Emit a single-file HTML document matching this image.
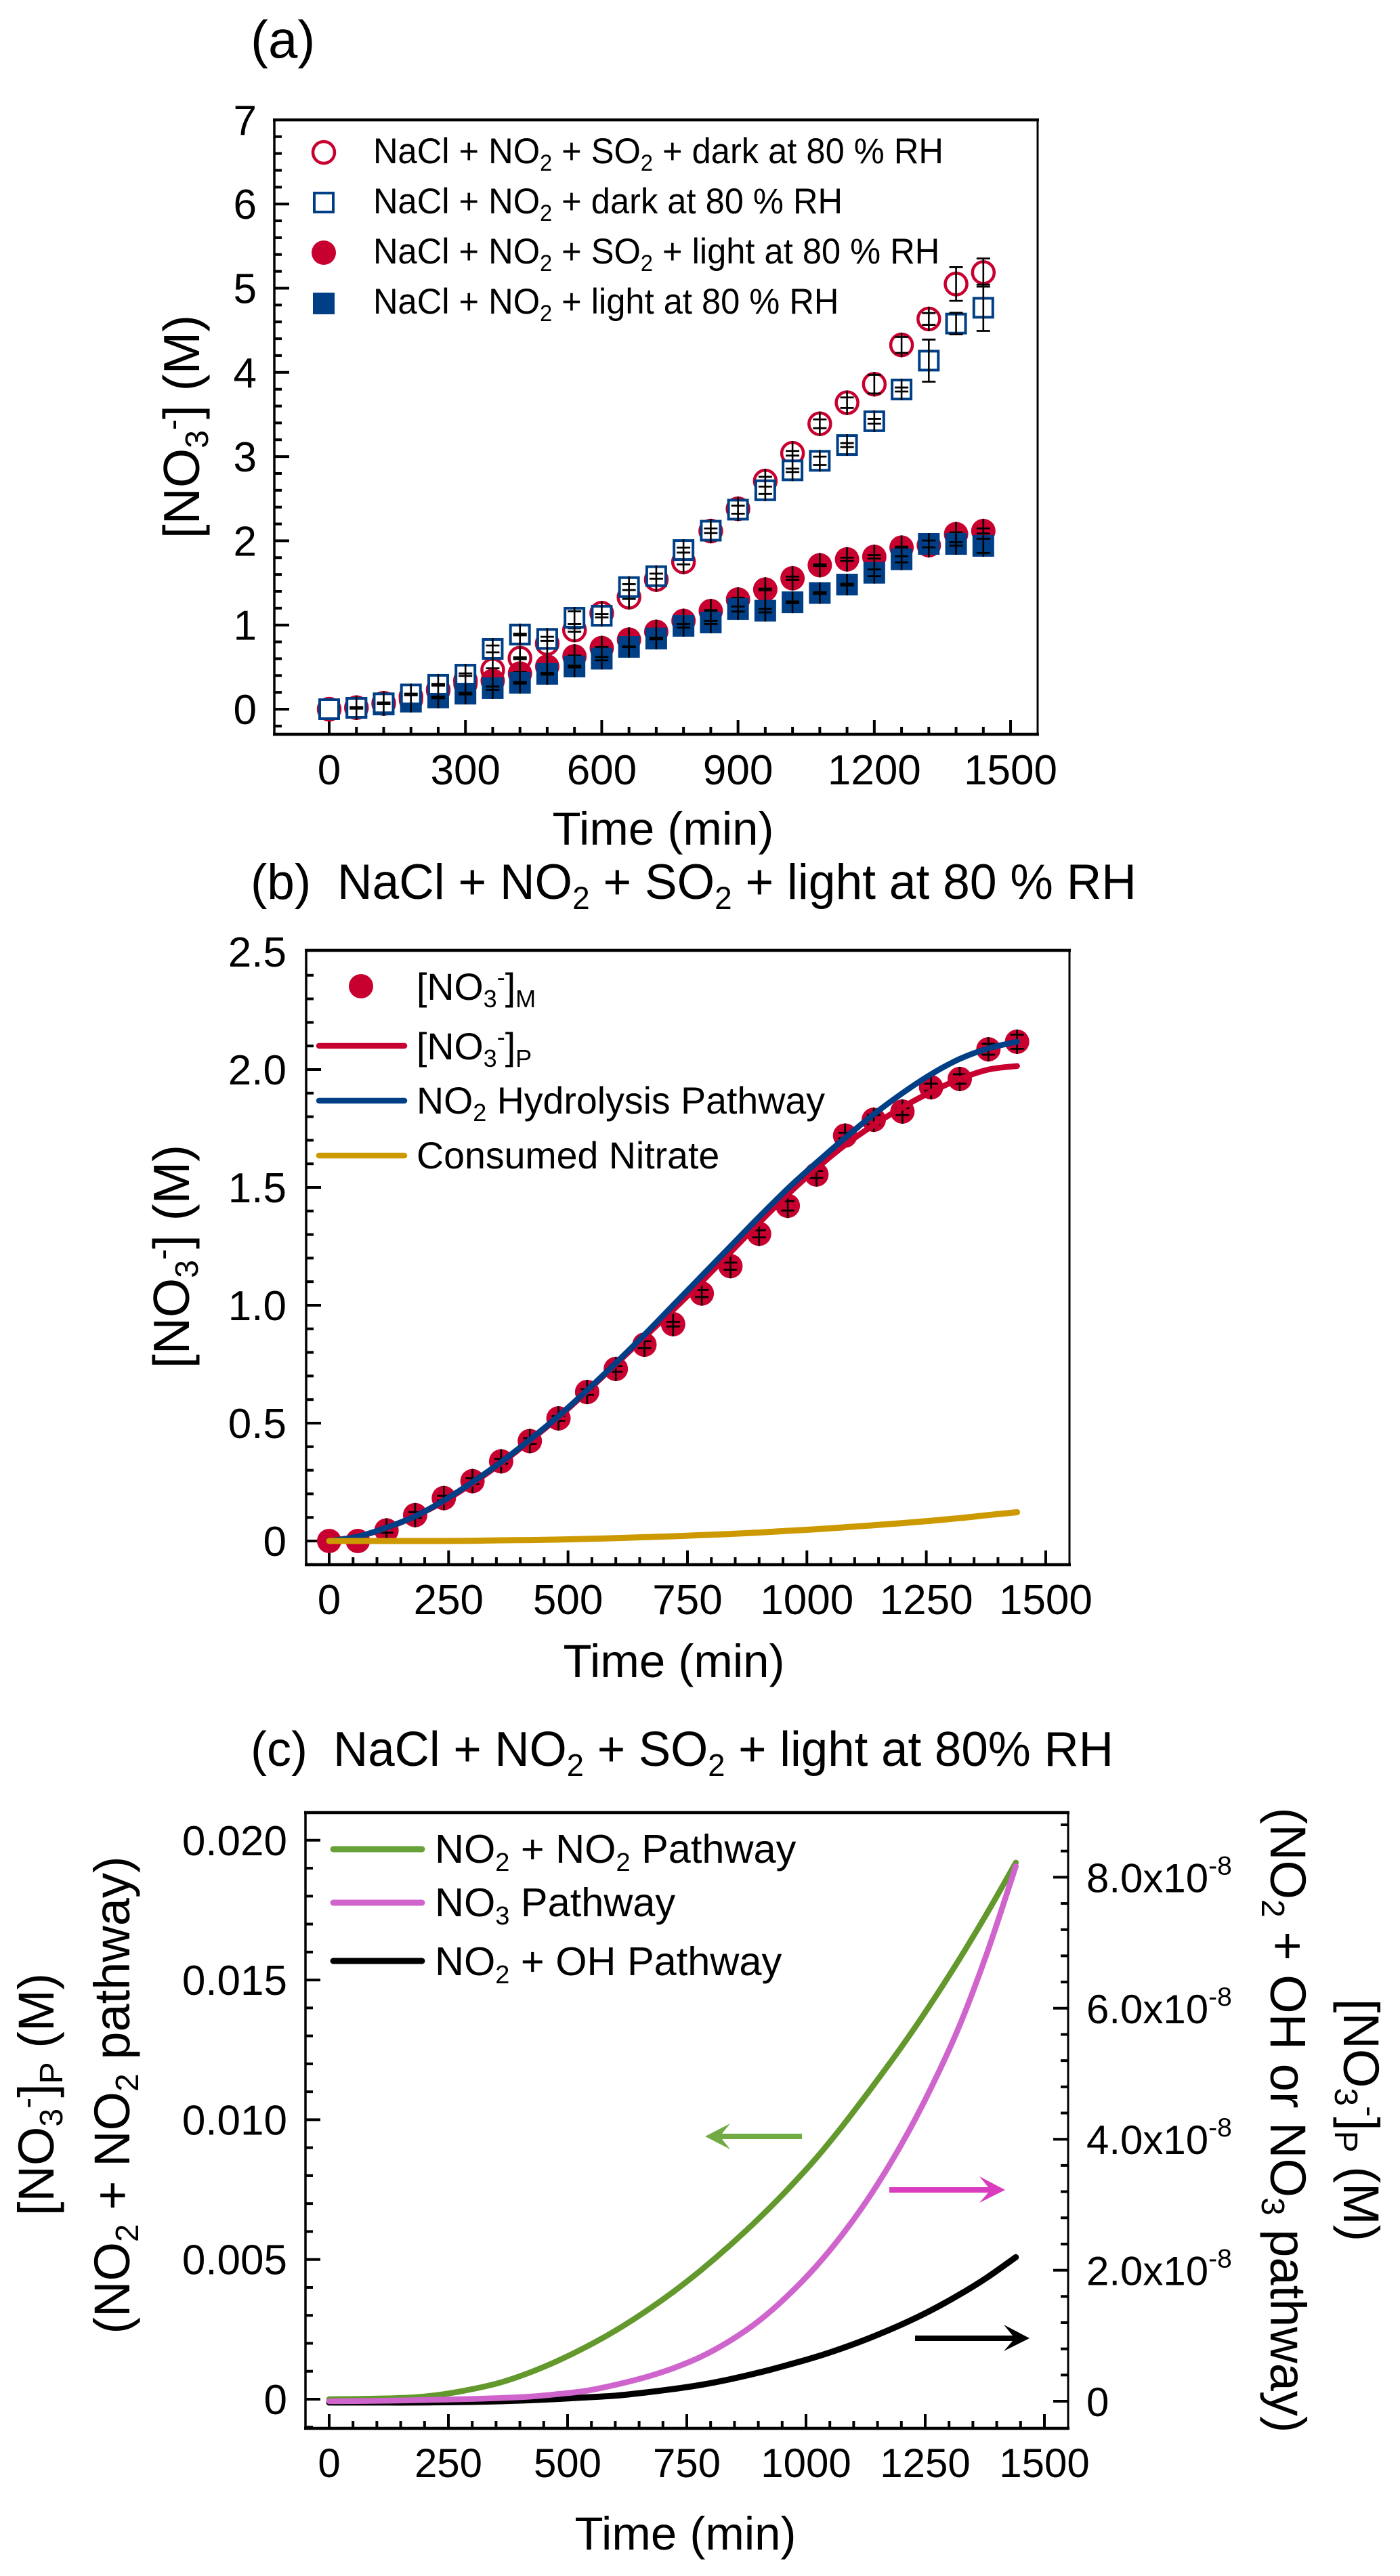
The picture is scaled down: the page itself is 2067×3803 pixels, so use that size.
<!DOCTYPE html>
<html lang="en">
<head>
<meta charset="utf-8">
<title>Nitrate formation charts</title>
<style>
html,body{margin:0;padding:0;background:#fff;}
svg{display:block;}
text{font-family:"Liberation Sans",Arial,sans-serif;fill:#000;}
</style>
</head>
<body>
<svg id="figure" xmlns="http://www.w3.org/2000/svg" width="2067" height="3803" viewBox="0 0 2067 3803">
<rect x="0" y="0" width="2067" height="3803" fill="#fff"/>

<!-- Panel A static text -->
<g id="panelA">
<text x="370" y="85" font-size="78">(a)</text>
<text x="979" y="1247" font-size="69" text-anchor="middle">Time (min)</text>
<text transform="translate(294,630) rotate(-90)" font-size="75" text-anchor="middle">[NO<tspan dy="13" font-size="48">3</tspan><tspan dy="-36" font-size="48">-</tspan><tspan dy="23">] (M)</tspan></text>
<g id="legendA">
<circle cx="478" cy="225" r="16" fill="#fff" stroke="#c8002f" stroke-width="4.5"/>
<rect x="464" y="285" width="28" height="28" fill="#fff" stroke="#003f85" stroke-width="4"/>
<circle cx="478" cy="373" r="18" fill="#c8002f"/>
<rect x="462" y="432" width="32" height="32" fill="#003f85"/>
<text transform="translate(551,241) scale(0.955,1)" font-size="53">NaCl + NO<tspan dy="11" font-size="34">2</tspan><tspan dy="-11"> + SO</tspan><tspan dy="11" font-size="34">2</tspan><tspan dy="-11"> + dark at 80 % RH</tspan></text>
<text transform="translate(551,315) scale(0.955,1)" font-size="53">NaCl + NO<tspan dy="11" font-size="34">2</tspan><tspan dy="-11"> + dark at 80 % RH</tspan></text>
<text transform="translate(551,389) scale(0.955,1)" font-size="53">NaCl + NO<tspan dy="11" font-size="34">2</tspan><tspan dy="-11"> + SO</tspan><tspan dy="11" font-size="34">2</tspan><tspan dy="-11"> + light at 80 % RH</tspan></text>
<text transform="translate(551,463) scale(0.955,1)" font-size="53">NaCl + NO<tspan dy="11" font-size="34">2</tspan><tspan dy="-11"> + light at 80 % RH</tspan></text>
</g>
</g>

<!-- Panel B static text -->
<g id="panelB">
<text x="370" y="1327" font-size="73">(b)</text>
<text transform="translate(498,1327) scale(0.978,1)" font-size="73">NaCl + NO<tspan dy="15" font-size="47">2</tspan><tspan dy="-15"> + SO</tspan><tspan dy="15" font-size="47">2</tspan><tspan dy="-15"> + light at 80 % RH</tspan></text>
<text x="995" y="2476" font-size="69" text-anchor="middle">Time (min)</text>
<text transform="translate(279,1855) rotate(-90)" font-size="75" text-anchor="middle">[NO<tspan dy="13" font-size="48">3</tspan><tspan dy="-36" font-size="48">-</tspan><tspan dy="23">] (M)</tspan></text>
<g id="legendB">
<circle cx="533" cy="1456" r="18" fill="#c8002f"/>
<line x1="471" y1="1544" x2="597" y2="1544" stroke="#c8002f" stroke-width="8.5" stroke-linecap="round"/>
<line x1="471" y1="1625" x2="597" y2="1625" stroke="#003f85" stroke-width="8.5" stroke-linecap="round"/>
<line x1="471" y1="1706" x2="597" y2="1706" stroke="#cc9900" stroke-width="8.5" stroke-linecap="round"/>
<text x="615" y="1476" font-size="55.5">[NO<tspan dy="11" font-size="36">3</tspan><tspan dy="-32" font-size="36">-</tspan><tspan dy="21">]</tspan><tspan dy="11" font-size="36">M</tspan></text>
<text x="615" y="1564" font-size="55.5">[NO<tspan dy="11" font-size="36">3</tspan><tspan dy="-32" font-size="36">-</tspan><tspan dy="21">]</tspan><tspan dy="11" font-size="36">P</tspan></text>
<text x="615" y="1644" font-size="55.5">NO<tspan dy="11" font-size="36">2</tspan><tspan dy="-11"> Hydrolysis Pathway</tspan></text>
<text x="615" y="1725" font-size="55.5">Consumed Nitrate</text>
</g>
</g>

<!-- Panel C static text -->
<g id="panelC">
<text x="370" y="2607" font-size="72">(c)</text>
<text transform="translate(492,2607) scale(0.985,1)" font-size="72">NaCl + NO<tspan dy="15" font-size="46">2</tspan><tspan dy="-15"> + SO</tspan><tspan dy="15" font-size="46">2</tspan><tspan dy="-15"> + light at 80% RH</tspan></text>
<text x="1012" y="3764" font-size="69" text-anchor="middle">Time (min)</text>
<text transform="translate(79,3092) rotate(-90)" font-size="74" text-anchor="middle">[NO<tspan dy="13" font-size="48">3</tspan><tspan dy="-36" font-size="48">-</tspan><tspan dy="23">]</tspan><tspan dy="13" font-size="48">P</tspan><tspan dy="-13"> (M)</tspan></text>
<text transform="translate(191,3093) rotate(-90)" font-size="74" text-anchor="middle">(NO<tspan dy="13" font-size="48">2</tspan><tspan dy="-13"> + NO</tspan><tspan dy="13" font-size="48">2</tspan><tspan dy="-13"> pathway)</tspan></text>
<text transform="translate(1876,3130) rotate(90)" font-size="74" text-anchor="middle">(NO<tspan dy="13" font-size="48">2</tspan><tspan dy="-13"> + OH or NO</tspan><tspan dy="13" font-size="48">3</tspan><tspan dy="-13"> pathway)</tspan></text>
<text transform="translate(1984,3130) rotate(90)" font-size="74" text-anchor="middle">[NO<tspan dy="13" font-size="48">3</tspan><tspan dy="-36" font-size="48">-</tspan><tspan dy="23">]</tspan><tspan dy="13" font-size="48">P</tspan><tspan dy="-13"> (M)</tspan></text>
<g id="legendC">
<line x1="492" y1="2730" x2="623" y2="2730" stroke="#68a03a" stroke-width="9" stroke-linecap="round"/>
<line x1="492" y1="2809" x2="623" y2="2809" stroke="#ce64cc" stroke-width="9" stroke-linecap="round"/>
<line x1="492" y1="2895" x2="623" y2="2895" stroke="#000" stroke-width="9" stroke-linecap="round"/>
<text x="642" y="2750" font-size="59.5">NO<tspan dy="12" font-size="38">2</tspan><tspan dy="-12"> + NO</tspan><tspan dy="12" font-size="38">2</tspan><tspan dy="-12"> Pathway</tspan></text>
<text x="642" y="2829" font-size="59.5">NO<tspan dy="12" font-size="38">3</tspan><tspan dy="-12"> Pathway</tspan></text>
<text x="642" y="2916" font-size="59.5">NO<tspan dy="12" font-size="38">2</tspan><tspan dy="-12"> + OH Pathway</tspan></text>
</g>
<g id="arrowsC">
<polygon points="1041,3154 1078,3135 1066,3150 1184,3150 1184,3158 1066,3158 1078,3173" fill="#72ab44"/>
<polygon points="1484,3233 1446,3213 1459,3229 1313,3229 1313,3237 1459,3237 1446,3252" fill="#d93dbd"/>
<polygon points="1520,3452 1482,3432 1495,3448 1351,3448 1351,3456 1495,3456 1482,3471" fill="#000"/>
</g>
</g>
</svg>

<script>
// Shared sampling times (min)
const timeMinutes = [0,60,120,180,240,300,360,420,480,540,600,660,720,780,840,900,960,1020,1080,1140,1200,1260,1320,1380,1440];

// Panel A: measured nitrate (M) and uncertainty
const darkSo2Values = [0,0.018,0.07,0.15,0.23,0.34,0.466,0.606,0.78,0.94,1.14,1.33,1.54,1.75,2.116,2.38,2.71,3.04,3.39,3.64,3.86,4.326,4.635,5.05,5.186];
const darkSo2Errors = [0,0.01,0.01,0.01,0.01,0.01,0.02,0.01,0.02,0.02,0.02,0.02,0.03,0.03,0.03,0.04,0.05,0.027,0.052,0.063,0.11,0.095,0.07,0.2,0.167];
const darkValues = [0,0.016,0.07,0.175,0.29,0.41,0.716,0.887,0.835,1.086,1.11,1.45,1.58,1.89,2.12,2.37,2.6,2.837,2.95,3.137,3.42,3.797,4.14,4.58,4.768];
const darkErrors = [0,0.01,0.01,0.01,0.01,0.015,0.04,0.01,0.025,0.076,0.02,0.035,0.03,0.03,0.027,0.048,0.044,0.02,0.05,0.023,0.028,0.024,0.25,0.128,0.275];
const lightSo2Values = [0,0.018,0.065,0.11,0.217,0.3,0.338,0.424,0.507,0.627,0.727,0.827,0.92,1.05,1.166,1.303,1.422,1.555,1.71,1.78,1.81,1.92,1.947,2.08,2.117];
const lightSo2Errors = [0,0.01,0.01,0.01,0.01,0.01,0.015,0.015,0.02,0.01,0.01,0.01,0.01,0.015,0.01,0.02,0.01,0.02,0.01,0.02,0.02,0.01,0.02,0.02,0.03];
const lightValues = [0,0.016,0.056,0.09,0.14,0.185,0.25,0.314,0.42,0.507,0.6,0.74,0.84,0.99,1.03,1.19,1.17,1.27,1.38,1.48,1.62,1.78,1.963,1.963,1.94];
const lightErrors = [0,0.01,0.01,0.01,0.01,0.01,0.02,0.01,0.01,0.01,0.02,0.005,0.01,0.02,0.02,0.03,0.02,0.01,0.01,0.01,0.04,0.036,0.04,0.02,0.085];

// Panel B: measured and modelled nitrate (M)
const measuredValues = [0,0,0.045,0.11,0.182,0.254,0.338,0.424,0.52,0.632,0.73,0.833,0.92,1.05,1.166,1.303,1.422,1.555,1.72,1.787,1.822,1.925,1.96,2.086,2.118];
const measuredErrors = [0,0,0.01,0.012,0.01,0.012,0.01,0.012,0.01,0.012,0.012,0.015,0.01,0.015,0.015,0.015,0.02,0.015,0.012,0.02,0.015,0.015,0.02,0.023,0.03];
const predictedValues = [0,0.019,0.055,0.105,0.168,0.245,0.33,0.425,0.525,0.635,0.75,0.865,0.98,1.1,1.225,1.35,1.47,1.58,1.68,1.765,1.84,1.905,1.96,2,2.015];
const hydrolysisValues = [0,0.019,0.057,0.105,0.172,0.25,0.335,0.43,0.53,0.64,0.755,0.875,1,1.125,1.25,1.375,1.495,1.605,1.71,1.81,1.9,1.98,2.045,2.09,2.118];
const consumedValues = [0,0,0,0,0,0.001,0.003,0.004,0.006,0.009,0.012,0.016,0.02,0.025,0.03,0.036,0.043,0.05,0.058,0.067,0.076,0.086,0.097,0.11,0.122];

// Panel C: pathway contributions
const no2No2Values = [0,0.00001,0.00003,0.00007,0.00018,0.00036,0.0006,0.00095,0.00138,0.00188,0.00245,0.0031,0.00382,0.00462,0.0055,0.00645,0.00748,0.0086,0.00985,0.0112,0.0126,0.0141,0.0157,0.0174,0.0192];
const no3PathwayValues = [0,0.003,0.008,0.015,0.025,0.035,0.05,0.07,0.11,0.16,0.25,0.36,0.5,0.68,0.92,1.22,1.6,2.05,2.58,3.2,3.92,4.75,5.7,6.85,8.17];
const no2OhValues = [-0.02,-0.02,-0.02,-0.02,-0.015,-0.01,0,0.015,0.035,0.06,0.085,0.13,0.185,0.25,0.335,0.435,0.55,0.675,0.82,0.985,1.17,1.38,1.62,1.89,2.2];

// Tick labels
const xTickValuesA = [0,300,600,900,1200,1500];
const xTickLabelsA = ['0','300','600','900','1200','1500'];
const yTickValuesA = [0,1,2,3,4,5,6,7];
const yTickLabelsA = ['0','1','2','3','4','5','6','7'];
const xTickValuesB = [0,250,500,750,1000,1250,1500];
const xTickLabelsB = ['0','250','500','750','1000','1250','1500'];
const yTickValuesB = [0,0.5,1,1.5,2,2.5];
const yTickLabelsB = ['0','0.5','1.0','1.5','2.0','2.5'];
const yTickValuesC = [0,0.005,0.01,0.015,0.02];
const yTickLabelsC = ['0','0.005','0.010','0.015','0.020'];
const rightTickValuesC = [0,2,4,6,8];
const rightTickLabelsC = ['0','2.0x10','4.0x10','6.0x10','8.0x10'];
const rightTickExponentsC = ['','-8','-8','-8','-8'];

// Axis functions
function xA(t){return 486 + t*0.6707;}
function yA(v){return 1047 - v*124.3;}
function xB(t){return 486 + t*0.7053;}
function yB(v){return 2275 - v*348;}
function xC(t){return 486 + t*0.704;}
function yC(v){return 3542 - v*41260;}
function yR(v){return 3545 - v*96.7;}

const NS = 'http://www.w3.org/2000/svg';
function svgEl(tag, parent){
  const el = document.createElementNS(NS, tag);
  parent.appendChild(el);
  return el;
}
function setLine(el, x1, y1, x2, y2, width, color){
  el.setAttribute('x1', x1);
  el.setAttribute('y1', y1);
  el.setAttribute('x2', x2);
  el.setAttribute('y2', y2);
  el.setAttribute('stroke', color);
  el.setAttribute('stroke-width', width);
}

function drawFrame(parent, l, r, t, b){
  const top = svgEl('line', parent);
  setLine(top, l-2, t, r+2, t, 4.5, '#000');
  
  
  const bottom = svgEl('line', parent);
  setLine(bottom, l-2, b, r+2, b, 4.5, '#000');
  
  
  const left = svgEl('line', parent);
  setLine(left, l, t, l, b, 3.5, '#000');
  
  
  const right = svgEl('line', parent);
  setLine(right, r, t, r, b, 3, '#000');
  
  
}

function drawXAxis(parent, xf, bottom, majors, labels, minorFrom, minorTo, minorStep, labelY, fontSize){
  for(let v=minorFrom; v<=minorTo+0.001; v+=minorStep){
    const isMajor = majors.indexOf(v) >= 0;
    const tick = svgEl('line', parent);
    setLine(tick, xf(v), bottom, xf(v), bottom-(isMajor?21:11), 4, '#000');
    
    
  }
  majors.forEach(function(v,i){
    const label = svgEl('text', parent);
    label.setAttribute('x', xf(v));
    label.setAttribute('y', labelY);
    label.setAttribute('font-size', fontSize);
    label.setAttribute('text-anchor', 'middle');
    label.textContent = labels[i];
    
    
  });
}

function drawYAxis(parent, yf, left, majors, labels, minorCount, minorStep, labelX, labelDy, fontSize){
  for(let i=0; i<minorCount; i++){
    const v = Math.round((majors[0] + (i-1)*minorStep)*1e6)/1e6;
    const isMajor = majors.some(function(m){return Math.abs(m-v)<1e-6;});
    const tick = svgEl('line', parent);
    setLine(tick, left, yf(v), left+(isMajor?22:11), yf(v), 4, '#000');
    
    
  }
  majors.forEach(function(v,i){
    const label = svgEl('text', parent);
    label.setAttribute('x', labelX);
    label.setAttribute('y', yf(v)+labelDy);
    label.setAttribute('font-size', fontSize);
    label.setAttribute('text-anchor', 'end');
    label.textContent = labels[i];
    
    
  });
}

function drawErrorBar(parent, x, yVal, yf, err, half, capWidth){
  if(err <= 0){ return; }
  const cy = yf(yVal);
  const errPx = Math.abs(yf(yVal+err)-cy);
  const reach = Math.max(errPx, half);
  const stem = svgEl('line', parent);
  setLine(stem, x, cy-reach, x, cy+reach, 2.6, '#000');
  
  
  const capTop = svgEl('line', parent);
  setLine(capTop, x-capWidth/2, cy-errPx, x+capWidth/2, cy-errPx, 2.8, '#000');
  
  
  const capBottom = svgEl('line', parent);
  setLine(capBottom, x-capWidth/2, cy+errPx, x+capWidth/2, cy+errPx, 2.8, '#000');
  
  
}

function drawCircles(parent, xf, yf, values, errors, filled, color, seriesName){
  const group = svgEl('g', parent);
  
  
  values.forEach(function(v,i){
    const dot = svgEl('circle', group);
    dot.setAttribute('cx', xf(timeMinutes[i]));
    dot.setAttribute('cy', yf(v));
    if(filled){
      dot.setAttribute('r', 18);
      dot.setAttribute('fill', color);
    } else {
      dot.setAttribute('r', 16);
      dot.setAttribute('fill', '#fff');
      dot.setAttribute('stroke', color);
      dot.setAttribute('stroke-width', 4.5);
    }
    
    
    drawErrorBar(group, xf(timeMinutes[i]), v, yf, errors[i], 18, 20);
  });
}

function drawSquares(parent, xf, yf, values, errors, filled, color, seriesName){
  const group = svgEl('g', parent);
  
  
  values.forEach(function(v,i){
    const sq = svgEl('rect', group);
    const half = filled ? 16 : 14;
    sq.setAttribute('x', xf(timeMinutes[i])-half);
    sq.setAttribute('y', yf(v)-half);
    sq.setAttribute('width', half*2);
    sq.setAttribute('height', half*2);
    if(filled){
      sq.setAttribute('fill', color);
    } else {
      sq.setAttribute('fill', '#fff');
      sq.setAttribute('stroke', color);
      sq.setAttribute('stroke-width', 4);
    }
    
    
    drawErrorBar(group, xf(timeMinutes[i]), v, yf, errors[i], 16, 20);
  });
}

// Curves pass through every data value with Catmull-Rom smoothing between them.
function drawCurve(parent, xf, yf, values, color, width, seriesName){
  const xs = values.map(function(v,i){return xf(timeMinutes[i]);});
  const ys = values.map(function(v){return yf(v);});
  let d = 'M' + xs[0].toFixed(1) + ' ' + ys[0].toFixed(1);
  for(let i=0; i<xs.length-1; i++){
    const p0 = Math.max(i-1, 0);
    const p3 = Math.min(i+2, xs.length-1);
    const c1x = xs[i] + (xs[i+1]-xs[p0])/6;
    const c1y = ys[i] + (ys[i+1]-ys[p0])/6;
    const c2x = xs[i+1] - (xs[p3]-xs[i])/6;
    const c2y = ys[i+1] - (ys[p3]-ys[i])/6;
    d += ' C' + c1x.toFixed(1) + ' ' + c1y.toFixed(1) + ' ' + c2x.toFixed(1) + ' ' + c2y.toFixed(1) + ' ' + xs[i+1].toFixed(1) + ' ' + ys[i+1].toFixed(1);
  }
  const line = svgEl('path', parent);
  line.setAttribute('d', d);
  line.setAttribute('fill', 'none');
  line.setAttribute('stroke', color);
  line.setAttribute('stroke-width', width);
  line.setAttribute('stroke-linecap', 'round');
  line.setAttribute('stroke-linejoin', 'round');
  
  
}

const RED = '#c8002f';
const BLUE = '#003f85';

// Panel A
const panelA = document.getElementById('panelA');
const axesA = svgEl('g', panelA);


drawYAxis(axesA, yA, 405, yTickValuesA, yTickLabelsA, 36, 0.2, 379, 22, 62);
drawXAxis(axesA, xA, 1084, xTickValuesA, xTickLabelsA, 0, 1500, 60, 1158, 62);
const plotA = svgEl('g', panelA);


drawCircles(plotA, xA, yA, darkSo2Values, darkSo2Errors, false, RED, 'series-so2-dark');
drawCircles(plotA, xA, yA, lightSo2Values, lightSo2Errors, true, RED, 'series-so2-light');
drawSquares(plotA, xA, yA, lightValues, lightErrors, true, BLUE, 'series-light');
drawSquares(plotA, xA, yA, darkValues, darkErrors, false, BLUE, 'series-dark');
drawFrame(axesA, 405, 1532, 177, 1084);

// Panel B
const panelB = document.getElementById('panelB');
const axesB = svgEl('g', panelB);


drawYAxis(axesB, yB, 452, yTickValuesB, yTickLabelsB, 26, 0.1, 423, 22, 62);
drawXAxis(axesB, xB, 2310, xTickValuesB, xTickLabelsB, 0, 1500, 50, 2383, 62);
const plotB = svgEl('g', panelB);


drawCircles(plotB, xB, yB, measuredValues, measuredErrors, true, RED, 'series-measured');
drawCurve(plotB, xB, yB, predictedValues, RED, 8.5, 'series-predicted');
drawCurve(plotB, xB, yB, hydrolysisValues, BLUE, 8.5, 'series-hydrolysis');
drawCurve(plotB, xB, yB, consumedValues, '#cc9900', 9, 'series-consumed');
drawFrame(axesB, 452, 1579, 1403, 2310);

// Panel C
const panelC = document.getElementById('panelC');
const axesC = svgEl('g', panelC);


drawYAxis(axesC, yC, 451, yTickValuesC, yTickLabelsC, 22, 0.001, 424, 22, 62);
drawXAxis(axesC, xC, 3585, xTickValuesB, xTickLabelsB, 0, 1500, 50, 3657, 60);
for(let v=0; v<=8.81; v+=0.4){
  const tickR = svgEl('line', axesC);
  const q = v/2;
  const major = Math.abs(q-Math.round(q))<0.01;
  setLine(tickR, 1577, yR(v), 1577-(major?22:11), yR(v), 4, '#000');
  
  
}
rightTickValuesC.forEach(function(v,i){
  const label = svgEl('text', axesC);
  label.setAttribute('x', 1604);
  label.setAttribute('y', yR(v)+22);
  label.setAttribute('font-size', 60);
  label.textContent = rightTickLabelsC[i];
  
  
  if(rightTickExponentsC[i]){
    const sup = svgEl('tspan', label);
    sup.setAttribute('dy', -26);
    sup.setAttribute('font-size', 39);
    sup.textContent = rightTickExponentsC[i];
  }
});
const plotC = svgEl('g', panelC);


drawCurve(plotC, xC, yR, no2OhValues, '#000', 9, 'series-no2-oh');
drawCurve(plotC, xC, yC, no2No2Values, '#62982c', 8.5, 'series-no2-no2');
drawCurve(plotC, xC, yR, no3PathwayValues, '#ce64cc', 8.5, 'series-no3');
drawFrame(axesC, 451, 1577, 2676, 3585);
</script>
</body>
</html>
